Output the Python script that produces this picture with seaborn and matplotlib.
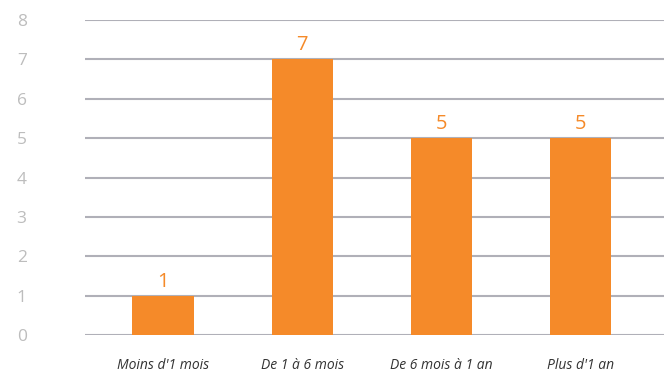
import numpy as np
import pandas as pd
import seaborn as sns
import matplotlib.pyplot as plt

categories = ["Moins d'1 mois", "De 1 à 6 mois", "De 6 mois à 1 an", "Plus d'1 an"]
values = [1, 7, 5, 5]
y_ticks = [0, 1, 2, 3, 4, 5, 6, 7, 8]

orange = "#F58A29"
grid_col = "#B0B0B8"

sns.set_style("white")
plt.rcParams['font.family'] = ['Open Sans', 'DejaVu Sans']

df = pd.DataFrame({"cat": categories, "val": values})

fig = plt.figure(figsize=(6.64, 3.73), dpi=100)
ax = fig.add_axes([85 / 664, 1 - 335 / 373, 1 - 85 / 664, 315 / 373])

sns.barplot(data=df, x="cat", y="val", color=orange, saturation=1, width=0.44,
            linewidth=0, ax=ax, zorder=3)

for i, v in enumerate(values):
    ax.text(i, v + 0.1, str(v), ha='center', va='bottom', color=orange, fontsize=14.5)

ax.set_ylim(0, 8)
ax.set_xlim(-0.56, 3.6)
ax.set_yticks(y_ticks)
ax.yaxis.grid(True, color=grid_col, linewidth=1.5, zorder=0)
ax.set_axisbelow(True)
for s in ax.spines.values():
    s.set_visible(False)
ax.tick_params(axis='y', length=0, pad=42, labelsize=12.5, labelcolor="#BDBDBD")
ax.tick_params(axis='x', length=0, pad=16.5, labelsize=10, labelcolor="#333333")
for lbl in ax.get_xticklabels():
    lbl.set_style('italic')
ax.set_xlabel("")
ax.set_ylabel("")

fig.savefig("out.png", dpi=100)
